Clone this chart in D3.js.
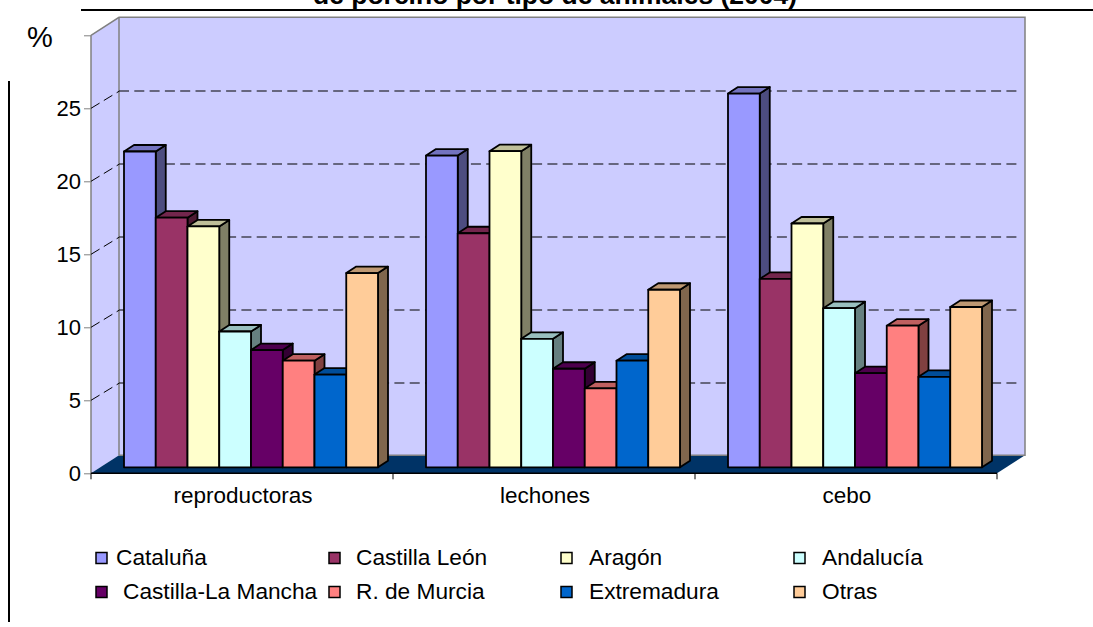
<!DOCTYPE html>
<html><head><meta charset="utf-8">
<script src="https://cdn.jsdelivr.net/npm/d3@7"></script>
<style>html,body{margin:0;padding:0;background:#fff;overflow:hidden}svg{display:block}text{font-family:"Liberation Sans",Arial,sans-serif;fill:#000}</style>
</head><body><svg id="c" width="1093" height="627"></svg>
<script>
const categories = ["reproductoras","lechones","cebo"];
const seriesNames = ["Cataluña","Castilla León","Aragón","Andalucía","Castilla-La Mancha","R. de Murcia","Extremadura","Otras"];
const seriesColors = ["#9999FF","#993366","#FFFFCC","#CCFFFF","#660066","#FF8080","#0066CC","#FFCC99"];
const reproductoras = [21.63,17.1,16.5,9.3,8.03,7.3,6.35,13.3];
const lechones = [21.35,16.03,21.65,8.8,6.75,5.4,7.3,12.16];
const cebo = [25.6,12.9,16.7,10.9,6.45,9.7,6.2,10.98];
const values = [reproductoras,lechones,cebo];
const yTicks = [0,5,10,15,20,25];
const title = "de porcino por tipo de animales (2004)";

const svg = d3.select("#c");
const x0 = d3.scaleBand().domain(categories).range([91,997]);
const x1 = d3.scaleBand().domain(seriesNames).range([33,287]);
const y = d3.scaleLinear().domain([0,30]).range([473.3,35.3]);
const DX=28, DY=18;            // wall depth
const barF={x:0,y:6}, barD={x:10,y:6.5};
const xL=x0.range()[0], xR=x0.range()[1];
const P=a=>a.map(p=>p.join(",")).join(" ");

// Title and frame rules
svg.append("text").attr("x",555).attr("y",3.5).attr("text-anchor","middle").attr("font-weight","bold").attr("font-size",26).attr("textLength",484).attr("lengthAdjust","spacingAndGlyphs").text(title);
svg.append("line").attr("x1",81).attr("x2",1093).attr("y1",10).attr("y2",10).attr("stroke","#000").attr("stroke-width",2);
svg.append("line").attr("x1",9).attr("x2",9).attr("y1",81).attr("y2",622).attr("stroke","#000").attr("stroke-width",2);

// Walls
svg.append("polygon").attr("fill","#CCCCFF").attr("points",P([[xL,y(30)],[xL+DX,y(30)-DY],[xL+DX,y(0)-DY],[xL,y(0)]]));
svg.append("rect").attr("fill","#CCCCFF").attr("x",xL+DX).attr("y",y(30)-DY).attr("width",xR-xL).attr("height",y(0)-y(30));
svg.append("polygon").attr("fill","#003366").attr("points",P([[xL,y(0)],[xL+DX,y(0)-DY],[xR+DX,y(0)-DY],[xR,y(0)]]));
const gray="#808080";
svg.append("polyline").attr("fill","none").attr("stroke",gray).attr("stroke-width",1.5)
  .attr("points",P([[xL,y(30)],[xL+DX,y(30)-DY],[xR+DX,y(30)-DY],[xR+DX,y(0)-DY],[xL+DX,y(0)-DY]]));
svg.append("line").attr("stroke",gray).attr("stroke-width",1.5).attr("x1",xL+DX).attr("x2",xL+DX).attr("y1",y(30)-DY).attr("y2",y(0)-DY);
svg.append("line").attr("stroke",gray).attr("stroke-width",1.5).attr("x1",xL).attr("x2",xL).attr("y1",y(30)).attr("y2",y(0));

// Gridlines
yTicks.filter(d=>d>0).forEach(d=>{
  svg.append("line").attr("x1",xL).attr("y1",y(d)).attr("x2",xL+DX).attr("y2",y(d)-DY+1)
    .attr("stroke","#000").attr("stroke-dasharray","10 5").attr("stroke-width",1);
  svg.append("line").attr("x1",xL+DX).attr("x2",xR+DX-8).attr("y1",y(d)-DY+.7).attr("y2",y(d)-DY+.7)
    .attr("stroke","#000").attr("stroke-dasharray","10 5.3").attr("stroke-width",1.1);
});

// Bars
const shade=(c,k)=>{const r=d3.rgb(c);return d3.rgb(r.r*k,r.g*k,r.b*k).formatHex();};
const bw=x1.bandwidth();
const g=svg.append("g").attr("stroke","#000").attr("stroke-width",1.8).attr("stroke-linejoin","round");
categories.forEach((cat,ci)=>{
  seriesNames.forEach((s,si)=>{
    const v=values[ci][si], c=seriesColors[si];
    const l=x0(cat)+x1(s), r=l+bw, b=y(0)-barF.y, t=y(v)-barF.y;
    g.append("polygon").attr("fill",shade(c,.5)).attr("points",P([[r,t],[r+barD.x,t-barD.y],[r+barD.x,b-barD.y],[r,b]]));
    g.append("polygon").attr("fill",shade(c,.75)).attr("points",P([[l,t],[l+barD.x,t-barD.y],[r+barD.x,t-barD.y],[r,t]]));
    g.append("rect").attr("fill",c).attr("x",l).attr("y",t).attr("width",bw).attr("height",b-t);
  });
});

// Axes
const gy=svg.append("g").attr("transform",`translate(${xL},0)`).call(d3.axisLeft(y).tickValues([...yTicks,30]).tickSize(7).tickPadding(3).tickFormat(d=>d===30?"":d));
gy.select(".domain").remove();
gy.selectAll("line").attr("stroke",gray).attr("stroke-width",1);
gy.selectAll("text").attr("font-size",22).attr("font-family",'"Liberation Sans",Arial,sans-serif');
const ax=svg.append("g");
ax.append("line").attr("x1",xL).attr("x2",xR).attr("y1",y(0)).attr("y2",y(0)).attr("stroke","#000").attr("stroke-width",1.5);
const catEdges=[...categories.map(c=>x0(c)),xR];
ax.selectAll(".t").data(catEdges).join("line").attr("x1",d=>d).attr("x2",d=>d).attr("y1",y(0)).attr("y2",y(0)+6).attr("stroke","#000");
ax.selectAll(".c").data(categories).join("text").attr("x",d=>x0(d)+x0.bandwidth()/2+1).attr("y",503).attr("text-anchor","middle").attr("font-size",22.5).text(d=>d);
svg.append("text").attr("x",27).attr("y",47).attr("font-size",29).text("%");

// Legend
const legendSwatchX=[96,329,561,794], legendTextX=[[116,356,589,822],[123,356,589,822]], legendY=[558,592];
seriesNames.forEach((s,i)=>{
  const row=Math.floor(i/4), col=i%4;
  svg.append("rect").attr("x",legendSwatchX[col]).attr("y",legendY[row]-5.5).attr("width",11).attr("height",11)
    .attr("fill",seriesColors[i]).attr("stroke","#000").attr("stroke-width",1.5);
  svg.append("text").attr("x",legendTextX[row][col]).attr("y",legendY[row]+7).attr("font-size",22.7).text(s);
});
</script></body></html>
